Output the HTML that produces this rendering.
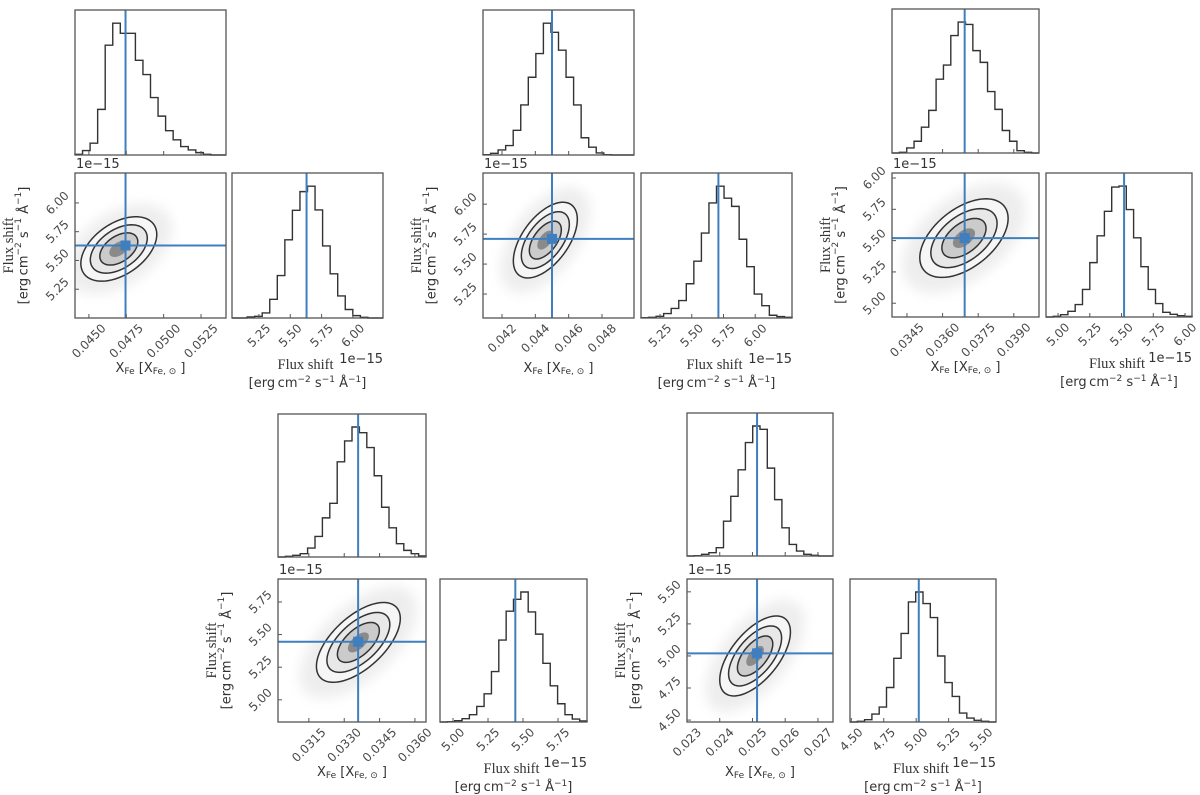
<!DOCTYPE html>
<html><head><meta charset="utf-8">
<style>
html,body{margin:0;padding:0;background:#fff;}
svg{display:block;}
.tick{font-family:"DejaVu Sans","Liberation Sans",sans-serif;font-size:12px;fill:#4a4a4a;}
.lab{font-family:"DejaVu Sans","Liberation Sans",sans-serif;font-size:13px;fill:#333;}
.ser{font-family:"Liberation Serif","DejaVu Serif",serif;font-size:14.5px;fill:#333;}
</style></head>
<body>
<svg id="fig" width="1200" height="795" viewBox="0 0 1200 795" xmlns="http://www.w3.org/2000/svg">
<defs><filter id="blur" x="-50%" y="-50%" width="200%" height="200%"><feGaussianBlur stdDeviation="6"/></filter></defs>
</svg>
<script>
// ---------- data ----------
const c1TopCounts=[2,13,35,135,325,390,360,360,280,238,170,115,72,45,25,15,7,2,0,0];
const c1RightCounts=[0,0,3,5,15,55,125,230,317,372,388,318,212,130,65,25,7,2,0,0];
const c2TopCounts=[1,5,15,28,73,148,230,300,390,363,310,230,148,51,23,6,1,0,0,0];
const c2RightCounts=[1,2,5,13,28,51,100,166,248,336,385,350,326,230,150,70,36,8,4,2];
const c3TopCounts=[0,2,15,35,77,127,220,262,350,390,383,305,270,183,130,67,35,7,2,0];
const c3RightCounts=[0,2,7,17,37,82,162,242,315,387,390,320,236,150,82,40,14,8,4,2];
const c4TopCounts=[0,2,5,10,27,62,118,162,287,350,392,375,330,245,150,88,40,20,10,3];
const c4RightCounts=[0,1,4,10,22,47,85,152,247,334,370,392,332,265,177,109,55,22,9,3];
const c5TopCounts=[0,1,5,10,25,105,180,260,342,392,382,265,170,85,35,15,5,2,0,0];
const c5RightCounts=[0,2,7,24,45,104,192,267,362,392,357,315,199,119,77,27,12,5,2,0];

const xRanges=[[0.04407,0.05417],[0.04086,0.04992],[0.03387,0.04006],[0.03019,0.03647],[0.023,0.02746]];
const yRanges=[[5.00,6.26],[5.05,6.26],[4.89,6.04],[4.83,5.926],[4.485,5.60]];
const fluxHistRanges=[[5.035,6.24],[5.10,6.29],[4.905,6.055],[4.907,5.957],[4.49,5.615]];
const xTickValues=[[0.045,0.0475,0.05,0.0525],[0.042,0.044,0.046,0.048],[0.0345,0.036,0.0375,0.039],[0.0315,0.033,0.0345,0.036],[0.023,0.024,0.025,0.026,0.027]];
const xTickLabels=[["0.0450","0.0475","0.0500","0.0525"],["0.042","0.044","0.046","0.048"],["0.0345","0.0360","0.0375","0.0390"],["0.0315","0.0330","0.0345","0.0360"],["0.023","0.024","0.025","0.026","0.027"]];
const fluxTickValues=[[5.25,5.5,5.75,6.0],[5.25,5.5,5.75,6.0],[5.0,5.25,5.5,5.75,6.0],[5.0,5.25,5.5,5.75],[4.5,4.75,5.0,5.25,5.5]];
const fluxTickLabels=[["5.25","5.50","5.75","6.00"],["5.25","5.50","5.75","6.00"],["5.00","5.25","5.50","5.75","6.00"],["5.00","5.25","5.50","5.75"],["4.50","4.75","5.00","5.25","5.50"]];
const truthX=[0.04745,0.0450,0.03693,0.03359,0.02514];
const truthFlux=[5.63,5.71,5.52,5.445,5.02];
const densCenterX=[0.0470,0.0446,0.0369,0.0336,0.02508];
const densCenterY=[5.60,5.70,5.52,5.44,5.00];
const densSigmaX=[0.00127,0.00096,0.00093,0.00089,0.00054];
const densSigmaY=[0.14,0.158,0.157,0.153,0.156];
const densRho=[0.45,0.55,0.5,0.6,0.6];
const topCounts=[c1TopCounts,c2TopCounts,c3TopCounts,c4TopCounts,c5TopCounts];
const rightCounts=[c1RightCounts,c2RightCounts,c3RightCounts,c4RightCounts,c5RightCounts];

// ---------- layout (pixels) ----------
const layout=[
 {x0:75,w:151,rx:232,rw:151,top:10,ll:173,h:145},
 {x0:483,w:151,rx:641,rw:151,top:10,ll:173,h:145},
 {x0:892,w:147,rx:1046,rw:146,top:9,ll:173,h:144},
 {x0:278,w:148,rx:440,rw:147,top:414,ll:579,h:143},
 {x0:687,w:146,rx:850,rw:146,top:413,ll:579,h:143}
];
const NS="http://www.w3.org/2000/svg";
const svg=document.getElementById('fig');
function mk(tag,attrs,parent){const e=document.createElementNS(NS,tag);for(const k in attrs)e.setAttribute(k,attrs[k]);(parent||svg).appendChild(e);return e;}
const BLUE="#3f7fbf";

function drawHist(g,counts,px0,pw,py0,ph,name){
  const mx=Math.max(...counts)*1.1;
  const n=counts.length;
  const sx=i=>px0+i/n*pw;
  const sy=v=>py0+ph-v/mx*ph;
  let d="M"+sx(0)+","+(py0+ph);
  counts.forEach((c,i)=>{d+=" L"+sx(i)+","+sy(c)+" L"+sx(i+1)+","+sy(c);});
  d+=" L"+sx(n)+","+(py0+ph);
  const p=mk('path',{d:d,fill:'none',stroke:'#333','stroke-width':1.4},g);
  
  
}
function frame(g,x,y,w,h,name){
  const r=mk('rect',{x:x,y:y,width:w,height:h,fill:'none',stroke:'#555','stroke-width':1.3},g);
  
  
}
function rotLabel(g,txt,cx,cy,mode,edge,name){
  const t=mk('text',{class:'tick','text-anchor':'middle','dominant-baseline':'central'},g);
  t.textContent=txt;
  
  
  const w=t.getComputedTextLength();
  const ext=(w+9)*0.7071;
  let x=cx,y=cy;
  if(mode==='x'){y=edge+5+ext/2;}else{x=edge-5-ext/2;}
  t.setAttribute('x',x);t.setAttribute('y',y);
  t.setAttribute('transform','rotate(-45 '+x+' '+y+')');
}
function ellipsePath(cx,cy,sx,sy,rho,k,fx,fy){
  let d="";
  for(let i=0;i<=72;i++){
    const t=i/72*2*Math.PI;
    const X=cx+k*sx*Math.cos(t);
    const Y=cy+k*sy*(rho*Math.cos(t)+Math.sqrt(1-rho*rho)*Math.sin(t));
    d+=(i?" L":"M")+fx(X).toFixed(2)+","+fy(Y).toFixed(2);
  }
  return d+"Z";
}

layout.forEach((L,ci)=>{
  const g=mk('g',{});
  
  
  const xr=xRanges[ci],yr=yRanges[ci],rr=fluxHistRanges[ci];
  const fx=v=>L.x0+(v-xr[0])/(xr[1]-xr[0])*L.w;
  const fy=v=>L.ll+L.h-(v-yr[0])/(yr[1]-yr[0])*L.h;
  const fr=v=>L.rx+(v-rr[0])/(rr[1]-rr[0])*L.rw;
  const bot=L.ll+L.h;

  const gt=mk('g',{},g);
  
  
  drawHist(gt,topCounts[ci],L.x0,L.w,L.top,L.h,'xfe-hist-steps');
  const tv=mk('line',{x1:fx(truthX[ci]),x2:fx(truthX[ci]),y1:L.top,y2:L.top+L.h,stroke:BLUE,'stroke-width':2},gt);
  
  
  xTickValues[ci].forEach(v=>{mk('line',{x1:fx(v),x2:fx(v),y1:L.top+L.h,y2:L.top+L.h-4,stroke:'#555','stroke-width':1},gt);});
  frame(gt,L.x0,L.top,L.w,L.h,'xfe-hist-frame');

  const g2=mk('g',{},g);
  
  
  const clip=mk('clipPath',{id:'clip'+ci},g2);
  mk('rect',{x:L.x0,y:L.ll,width:L.w,height:L.h},clip);
  const gi=mk('g',{'clip-path':'url(#clip'+ci+')'},g2);
  const cx=densCenterX[ci],cy=densCenterY[ci],sx=densSigmaX[ci],sy=densSigmaY[ci],rh=densRho[ci];
  const cloud=mk('path',{d:ellipsePath(cx,cy,sx,sy,rh,2.8,fx,fy),fill:'#e2e2e2',opacity:0.6,filter:'url(#blur)'},gi);
  
  
  const fills=[[2,'#f6f6f6'],[1.5,'#e8e8e8'],[1,'#cbcbcb'],[0.5,'#8a8a8a']];
  fills.forEach(f=>{mk('path',{d:ellipsePath(cx,cy,sx,sy,rh,f[0],fx,fy),fill:f[1]},gi);});
  [2,1.5,1].forEach(k=>{
    const c=mk('path',{d:ellipsePath(cx,cy,sx,sy,rh,k,fx,fy),fill:'none',stroke:'#333','stroke-width':1.5},gi);
    
    
  });
  const lv=mk('line',{x1:fx(truthX[ci]),x2:fx(truthX[ci]),y1:L.ll,y2:bot,stroke:BLUE,'stroke-width':2},gi);
  
  
  const lh=mk('line',{x1:L.x0,x2:L.x0+L.w,y1:fy(truthFlux[ci]),y2:fy(truthFlux[ci]),stroke:BLUE,'stroke-width':2},gi);
  
  
  const sq=mk('rect',{x:fx(truthX[ci])-5,y:fy(truthFlux[ci])-5,width:10,height:10,fill:BLUE},gi);
  
  
  xTickValues[ci].forEach((v,i)=>{
    mk('line',{x1:fx(v),x2:fx(v),y1:bot,y2:bot-4,stroke:'#555','stroke-width':1},g2);
    rotLabel(g2,xTickLabels[ci][i],fx(v),0,'x',bot,'x-tick-label');
  });
  fluxTickValues[ci].forEach((v,i)=>{
    mk('line',{x1:L.x0,x2:L.x0+4,y1:fy(v),y2:fy(v),stroke:'#555','stroke-width':1},g2);
    rotLabel(g2,fluxTickLabels[ci][i],0,fy(v),'y',L.x0,'y-tick-label');
  });
  frame(g2,L.x0,L.ll,L.w,L.h,'density-frame');
  const off=mk('text',{x:L.x0+1,y:L.ll-5,class:'lab'},g2);
  off.textContent='1e\u221215';
  
  
  const ymid=L.ll+L.h/2;
  const yt1=mk('text',{x:L.x0-66,y:ymid,class:'ser','text-anchor':'middle','dominant-baseline':'central',transform:'rotate(-90 '+(L.x0-66)+' '+ymid+')'},g2);
  yt1.textContent='Flux shift';
  
  
  const yt2=mk('text',{x:L.x0-51,y:ymid,class:'lab','text-anchor':'middle','dominant-baseline':'central',transform:'rotate(-90 '+(L.x0-51)+' '+ymid+')'},g2);
  yt2.innerHTML='[erg\u2009cm<tspan dy="-5" font-size="9">\u22122</tspan><tspan dy="5"> s</tspan><tspan dy="-5" font-size="9">\u22121</tspan><tspan dy="5"> \u00C5</tspan><tspan dy="-5" font-size="9">\u22121</tspan><tspan dy="5">]</tspan>';
  
  
  const xt=mk('text',{x:L.x0+L.w/2,y:bot+54,class:'lab','text-anchor':'middle'},g2);
  xt.innerHTML='X<tspan font-size="9" dy="2">Fe</tspan><tspan dy="-2"> [X</tspan><tspan font-size="9" dy="2">Fe, \u2299</tspan><tspan dy="-2"> ]</tspan>';
  
  

  const gr=mk('g',{},g);
  
  
  drawHist(gr,rightCounts[ci],L.rx,L.rw,L.ll,L.h,'flux-hist-steps');
  const rv=mk('line',{x1:fr(truthFlux[ci]),x2:fr(truthFlux[ci]),y1:L.ll,y2:bot,stroke:BLUE,'stroke-width':2},gr);
  
  
  fluxTickValues[ci].forEach((v,i)=>{
    mk('line',{x1:fr(v),x2:fr(v),y1:bot,y2:bot-4,stroke:'#555','stroke-width':1},gr);
    rotLabel(gr,fluxTickLabels[ci][i],fr(v),0,'x',bot,'flux-tick-label');
  });
  frame(gr,L.rx,L.ll,L.rw,L.h,'flux-hist-frame');
  const ro=mk('text',{x:L.rx+L.rw,y:bot+45,class:'lab','text-anchor':'end'},gr);
  ro.textContent='1e\u221215';
  
  
  const rt1=mk('text',{x:L.rx+L.rw/2-2,y:bot+51,class:'ser','text-anchor':'middle'},gr);
  rt1.textContent='Flux shift';
  
  
  const rt2=mk('text',{x:L.rx+L.rw/2,y:bot+69,class:'lab','text-anchor':'middle'},gr);
  rt2.innerHTML='[erg\u2009cm<tspan dy="-5" font-size="9">\u22122</tspan><tspan dy="5"> s</tspan><tspan dy="-5" font-size="9">\u22121</tspan><tspan dy="5"> \u00C5</tspan><tspan dy="-5" font-size="9">\u22121</tspan><tspan dy="5">]</tspan>';
  
  
});
</script>
</body></html>
